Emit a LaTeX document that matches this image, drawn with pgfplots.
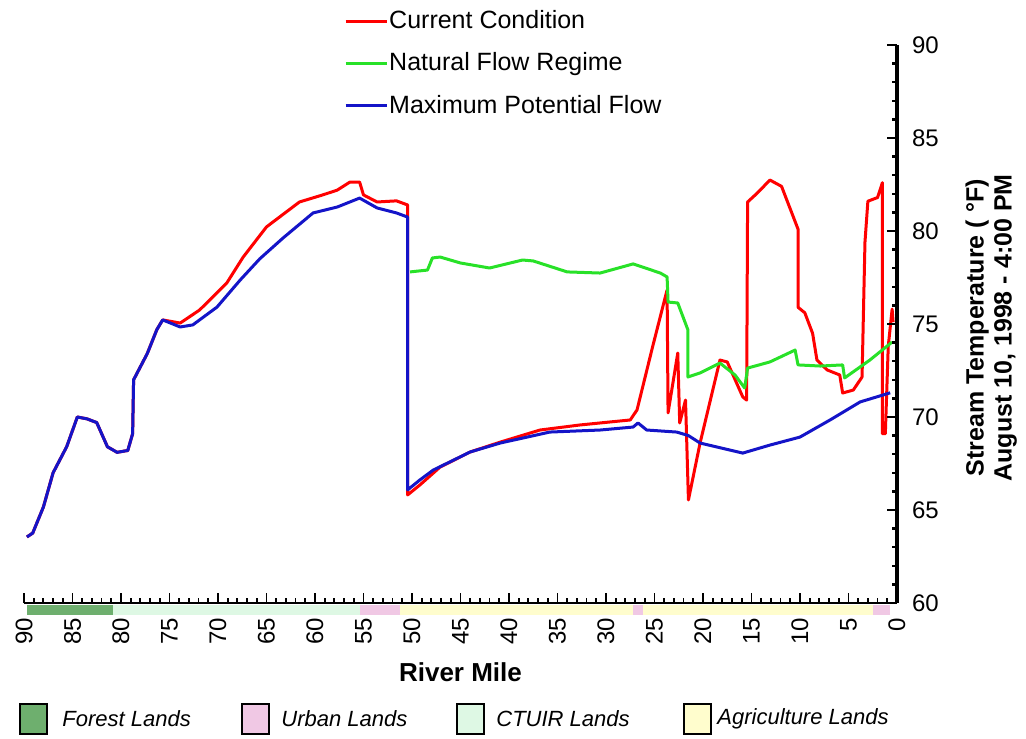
\documentclass[border=0pt]{standalone}
\usepackage{pgfplots}
\usepackage{pgfplotstable}
\pgfplotsset{compat=1.18}
\usepackage{fontspec}
\setmainfont{Liberation Sans}

\definecolor{cc}{RGB}{255,0,0}
\definecolor{nf}{RGB}{40,225,40}
\definecolor{mp}{RGB}{20,20,200}
\definecolor{forest}{RGB}{110,175,110}
\definecolor{urban}{RGB}{240,200,228}
\definecolor{ctuir}{RGB}{222,248,228}
\definecolor{agri}{RGB}{255,253,205}

\pgfplotstableread{
mile temp
89.7 63.55
89.1 63.76
88.0 65.16
87.0 67.00
85.6 68.40
84.5 70.00
83.5 69.90
82.5 69.70
81.4 68.40
80.4 68.10
79.3 68.20
78.8 69.10
78.7 72.00
77.3 73.40
76.3 74.70
75.7 75.22
73.9 75.05
71.9 75.75
69.1 77.20
67.4 78.60
65.0 80.22
61.6 81.56
59.2 81.94
57.7 82.20
56.4 82.63
55.4 82.63
55.0 81.94
53.6 81.56
51.6 81.62
50.45 81.40
50.45 65.81
49.2 66.34
47.1 67.31
44.0 68.12
40.9 68.65
36.8 69.30
32.7 69.57
30.6 69.68
27.5 69.84
26.8 70.38
25.2 73.76
23.7 76.83
23.6 70.22
22.6 73.44
22.4 69.68
21.8 70.91
21.5 65.54
20.3 68.60
18.25 73.06
17.5 72.96
15.9 71.08
15.5 70.91
15.4 81.56
14.4 82.04
13.1 82.74
11.9 82.40
10.2 80.10
10.2 75.90
9.5 75.60
8.7 74.50
8.25 73.06
7.2 72.53
5.9 72.26
5.6 71.29
4.5 71.45
3.6 72.15
3.3 79.40
3.0 81.60
2.0 81.80
1.5 82.60
1.5 69.10
1.2 69.10
0.9 73.80
0.5 75.80
0.4 75.10
}\current

\pgfplotstableread{
mile temp
50.2 77.80
48.4 77.90
47.9 78.55
47.1 78.60
45.0 78.28
42.0 78.01
38.6 78.44
37.5 78.39
34.0 77.80
30.6 77.74
27.2 78.23
24.4 77.74
23.7 77.53
23.6 76.18
22.6 76.13
21.55 74.68
21.55 72.15
20.3 72.37
18.25 72.90
16.7 72.26
15.7 71.56
15.4 72.63
13.1 72.96
10.5 73.60
10.2 72.80
7.9 72.74
5.6 72.80
5.4 72.10
2.8 73.06
0.5 74.03
}\natural

\pgfplotstableread{
mile temp
89.7 63.55
89.1 63.76
88.0 65.16
87.0 67.00
85.6 68.40
84.5 70.00
83.5 69.90
82.5 69.70
81.4 68.40
80.4 68.10
79.3 68.20
78.8 69.10
78.7 72.00
77.3 73.40
76.3 74.70
75.7 75.22
73.9 74.84
72.6 74.95
70.1 75.91
67.7 77.37
65.7 78.50
63.3 79.62
60.2 80.97
57.7 81.29
55.4 81.77
53.6 81.24
51.6 80.97
50.45 80.75
50.45 66.08
49.2 66.61
47.8 67.15
44.0 68.12
40.9 68.60
35.8 69.19
30.6 69.30
27.2 69.46
26.7 69.68
25.8 69.30
22.7 69.19
21.5 69.00
20.3 68.60
15.9 68.06
13.1 68.49
10.0 68.92
6.9 69.84
3.8 70.81
0.7 71.30
}\maxpot

\begin{document}
\begin{tikzpicture}
\path[use as bounding box] (0,0) rectangle (513pt,369pt);
\begin{axis}[
  at={(12pt,67.5pt)}, anchor=south west,
  scale only axis, width=436.5pt, height=279pt,
  x dir=reverse, xmin=0, xmax=90, ymin=60, ymax=90,
  axis x line=bottom, axis y line=right,
  axis line style={-},
  x axis line style={line width=1pt},
  y axis line style={line width=2pt},
  xtick={0,5,...,90}, minor x tick num=4,
  ytick={60,65,...,90}, minor y tick num=4,
  xtick align=inside, ytick align=inside,
  major tick length=5pt, minor tick length=2.5pt,
  xtick style={black, line width=0.9pt},
  ytick style={black, line width=1.2pt},
  axis on top,
  /pgf/number format/assume math mode=true,
  xticklabel style={rotate=90, anchor=east, font=\fontsize{12}{12}\selectfont},
  xticklabel shift=4pt,
  yticklabel style={anchor=west, font=\fontsize{12}{12}\selectfont},
  yticklabel shift=4pt,
  every axis x label/.style={at={(axis description cs:0.5,-0.124)}, anchor=center, font=\bfseries\fontsize{13}{13}\selectfont},
  every axis y label/.style={at={(axis description cs:1.108,0.493)}, anchor=center, rotate=90, align=center, font=\bfseries\fontsize{12.5}{14}\selectfont},
  xlabel={River Mile},
  ylabel={Stream Temperature ( \textdegree F)\\August 10, 1998 - 4:00 PM},
  clip=false,
  legend style={at={(axis description cs:0.3664,1.0644)}, anchor=north west, draw=none, fill=none,
    font=\fontsize{12.5}{12.5}\selectfont, row sep=9.6pt, inner sep=0pt,
    nodes={inner sep=0.5pt}},
  legend cell align=left,
  legend image code/.code={\draw[#1, line width=1.5pt] (0pt,0pt) -- (20.5pt,0pt);},
]
% land-use strip below the river-mile axis
\addplot[forget plot, fill=forest, draw=none] coordinates {(89.7,59.35) (80.8,59.35) (80.8,59.9) (89.7,59.9)} --cycle;
\addplot[forget plot, fill=ctuir, draw=none] coordinates {(80.8,59.35) (55.4,59.35) (55.4,59.9) (80.8,59.9)} --cycle;
\addplot[forget plot, fill=urban, draw=none] coordinates {(55.4,59.35) (51.2,59.35) (51.2,59.9) (55.4,59.9)} --cycle;
\addplot[forget plot, fill=agri, draw=none] coordinates {(51.2,59.35) (27.2,59.35) (27.2,59.9) (51.2,59.9)} --cycle;
\addplot[forget plot, fill=urban, draw=none] coordinates {(27.2,59.35) (26.2,59.35) (26.2,59.9) (27.2,59.9)} --cycle;
\addplot[forget plot, fill=agri, draw=none] coordinates {(26.2,59.35) (2.5,59.35) (2.5,59.9) (26.2,59.9)} --cycle;
\addplot[forget plot, fill=urban, draw=none] coordinates {(2.5,59.35) (0.7,59.35) (0.7,59.9) (2.5,59.9)} --cycle;

\addplot[cc, line width=1.5pt, line join=round] table[x=mile,y=temp] {\current};
\addlegendentry{Current Condition}
\addplot[nf, line width=1.5pt, line join=round] table[x=mile,y=temp] {\natural};
\addlegendentry{Natural Flow Regime}
\addplot[mp, line width=1.5pt, line join=round] table[x=mile,y=temp] {\maxpot};
\addlegendentry{Maximum Potential Flow}
\end{axis}

% land-use legend
\begin{scope}[every node/.style={anchor=west, inner sep=0pt, font=\itshape\fontsize{11}{11}\selectfont}]
\draw[black, line width=0.6pt, fill=forest] (10pt,2pt) rectangle (23.5pt,17pt);
\node at (31pt,9.5pt) {Forest Lands};
\draw[black, line width=0.6pt, fill=urban] (121pt,2pt) rectangle (134.5pt,17pt);
\node at (140.5pt,9.5pt) {Urban Lands};
\draw[black, line width=0.6pt, fill=ctuir] (228.5pt,2pt) rectangle (242pt,17pt);
\node at (248pt,9.5pt) {CTUIR Lands};
\draw[black, line width=0.6pt, fill=agri] (342pt,2pt) rectangle (355.5pt,17pt);
\node at (358.5pt,9.5pt) {Agriculture Lands};
\end{scope}
\end{tikzpicture}
\end{document}
